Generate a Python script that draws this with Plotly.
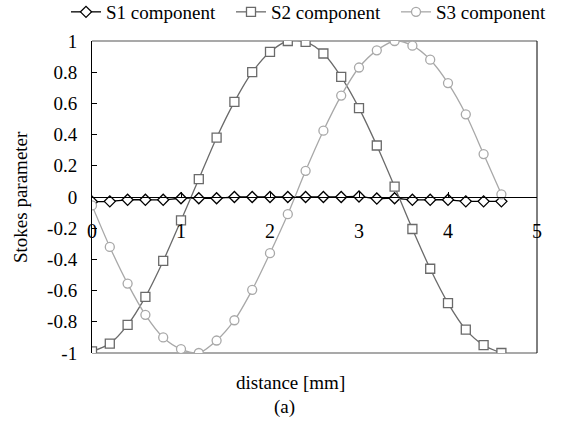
import plotly.graph_objects as go

# distance along the sample [mm]
distance_mm = [0.0, 0.2, 0.4, 0.6, 0.8, 1.0, 1.2, 1.4, 1.6, 1.8, 2.0, 2.2,
               2.4, 2.6, 2.8, 3.0, 3.2, 3.4, 3.6, 3.8, 4.0, 4.2, 4.4, 4.6]

# normalised Stokes components
s1 = [-0.03, -0.028, -0.018, -0.018, -0.018, -0.008, -0.008, -0.008, 0.0, 0.0, 0.0, 0.0,
      0.0, 0.0, 0.0, 0.003, -0.01, -0.008, -0.018, -0.018, -0.018, -0.028, -0.028, -0.028]
s2 = [-0.99, -0.94, -0.82, -0.64, -0.41, -0.15, 0.115, 0.38, 0.61, 0.80, 0.93, 1.0,
      0.995, 0.92, 0.77, 0.57, 0.33, 0.066, -0.205, -0.46, -0.68, -0.85, -0.95, -1.0]
s3 = [-0.054, -0.32, -0.555, -0.755, -0.90, -0.975, -1.0, -0.92, -0.79, -0.595, -0.36, -0.11,
      0.168, 0.425, 0.65, 0.83, 0.94, 1.0, 0.97, 0.88, 0.73, 0.53, 0.275, 0.017]

series_names = ["S1 component", "S2 component", "S3 component"]

x_tick_vals = [0, 1, 2, 3, 4, 5]
x_tick_text = ["0", "1", "2", "3", "4", "5"]
y_tick_vals = [1, 0.8, 0.6, 0.4, 0.2, 0, -0.2, -0.4, -0.6, -0.8, -1]
y_tick_text = ["1", "0.8", "0.6", "0.4", "0.2", "0", "-0.2", "-0.4", "-0.6", "-0.8", "-1"]

FONT = "Liberation Serif, Times New Roman, Times, serif"
W, H = 562, 443
ML, MR, MT, MB = 92, 25, 41, 90
PW, PH = W - ML - MR, H - MT - MB


def px_to_paper(px, py):
    """Convert a page pixel position to paper coordinates."""
    return (px - ML) / PW, (H - MB - py) / PH


# hollow-looking markers: white fill with a coloured outline
styles = [
    dict(color="#000000", symbol="diamond", size=8.5),
    dict(color="#6a6a6a", symbol="square", size=9),
    dict(color="#a8a8a8", symbol="circle", size=9),
]

fig = go.Figure()
for name, ys, st in zip(series_names, [s1, s2, s3], styles):
    fig.add_trace(go.Scatter(
        x=distance_mm, y=ys, name=name, mode="lines+markers",
        line=dict(color=st["color"], width=1.3, shape="spline", smoothing=0.8),
        marker=dict(symbol=st["symbol"], size=st["size"],
                    color="white", line=dict(color=st["color"], width=1.3)),
    ))

lx, ly = px_to_paper(66, 12)
fig.update_layout(
    width=W, height=H,
    margin=dict(l=ML, r=MR, t=MT, b=MB, autoexpand=False),
    paper_bgcolor="white", plot_bgcolor="white",
    font=dict(family=FONT, size=19, color="black"),
    showlegend=True,
    legend=dict(orientation="h", x=lx, xanchor="left", xref="paper",
                y=ly, yanchor="middle", yref="paper",
                font=dict(family=FONT, size=19), itemwidth=30,
                entrywidth=120, entrywidthmode="pixels",
                bgcolor="rgba(0,0,0,0)", tracegroupgap=0),
    xaxis=dict(range=[0, 5], tickvals=x_tick_vals, ticktext=x_tick_text,
               showgrid=False, zeroline=False, showline=True,
               linecolor="black", linewidth=1,
               anchor="free", position=0.5,
               ticks="inside", ticklen=5, tickcolor="black",
               ticklabelstandoff=16,
               tickfont=dict(family=FONT, size=20)),
    yaxis=dict(range=[-1, 1], tickvals=y_tick_vals, ticktext=y_tick_text,
               showgrid=False, zeroline=False, showline=True,
               linecolor="black", linewidth=1,
               ticks="inside", ticklen=5, tickcolor="black",
               ticklabelstandoff=10,
               tickfont=dict(family=FONT, size=19)),
)

# frame: grey top and bottom edges, black right edge
fig.add_shape(type="line", xref="paper", yref="paper", x0=0, x1=1, y0=1, y1=1,
              line=dict(color="#8c8c8c", width=1.5), layer="below")
fig.add_shape(type="line", xref="paper", yref="paper", x0=0, x1=1, y0=0, y1=0,
              line=dict(color="#8c8c8c", width=1.5), layer="below")
fig.add_shape(type="line", xref="paper", yref="paper", x0=1, x1=1, y0=0, y1=1,
              line=dict(color="black", width=1), layer="below")

yx, yy = px_to_paper(20, 197)
fig.add_annotation(text="Stokes parameter", xref="paper", yref="paper",
                   x=yx, y=yy, textangle=-90, showarrow=False,
                   xanchor="center", yanchor="middle",
                   font=dict(family=FONT, size=19))
tx, ty = px_to_paper(290, 382)
fig.add_annotation(text="distance [mm]", xref="paper", yref="paper",
                   x=tx, y=ty, showarrow=False,
                   xanchor="center", yanchor="middle",
                   font=dict(family=FONT, size=19))
ax_, ay_ = px_to_paper(284, 407)
fig.add_annotation(text="(a)", xref="paper", yref="paper",
                   x=ax_, y=ay_, showarrow=False,
                   xanchor="center", yanchor="middle",
                   font=dict(family=FONT, size=19))

fig.write_html("out.html")
